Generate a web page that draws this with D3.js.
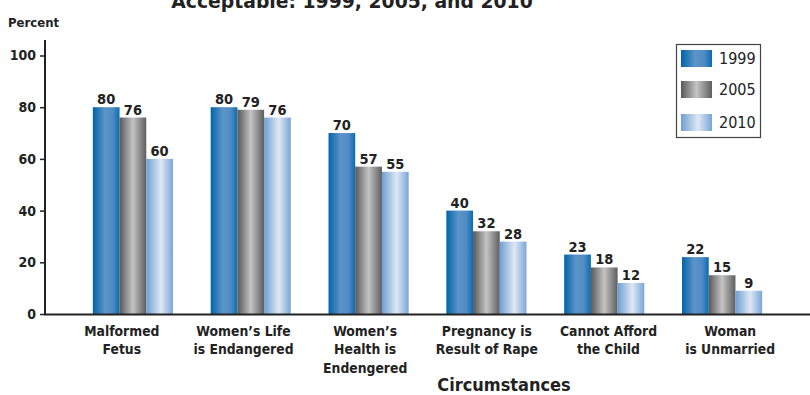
<!DOCTYPE html>
<html><head><meta charset="utf-8">
<script src="https://cdn.jsdelivr.net/npm/d3@7"></script>
<style>body{margin:0;background:#fff}svg{display:block}</style>
</head><body>
<script>
const categories = [["Malformed","Fetus"],["Women\u2019s Life","is Endangered"],["Women\u2019s","Health is","Endengered"],["Pregnancy is","Result of Rape"],["Cannot Afford","the Child"],["Woman","is Unmarried"]];
const years = ["1999","2005","2010"];
const v1999 = [80,80,70,40,23,22];
const v2005 = [76,79,57,32,18,15];
const v2010 = [60,76,55,28,12,9];
const yTicks = [0,20,40,60,80,100];
const series = [v1999, v2005, v2010];

const W=810,H=395;
const svg=d3.select("body").append("svg").attr("width",W).attr("height",H);
const font="'DejaVu Sans Condensed','DejaVu Sans',sans-serif";

const defs=svg.append("defs");
const grads=[
  [["0%","#0064a8"],["45%","#5d94c8"],["75%","#4f8bc4"],["100%","#0a6cb0"]],
  [["0%","#585858"],["50%","#c4c4c4"],["100%","#5e5e5e"]],
  [["0%","#6e9ed2"],["55%","#dfe8f5"],["100%","#7aa5d8"]]
];
grads.forEach((g,i)=>{
  const lg=defs.append("linearGradient").attr("id","g"+i).attr("x1","0").attr("x2","1").attr("y1","0").attr("y2","0");
  g.forEach(s=>lg.append("stop").attr("offset",s[0]).attr("stop-color",s[1]));
});

const x=d3.scaleBand().domain(d3.range(categories.length)).range([74,781]).paddingInner(0.32).paddingOuter(0.16);
const xl=d3.scaleBand().domain(d3.range(categories.length)).range([61,791]);
const xs=d3.scaleBand().domain(d3.range(3)).range([0,x.bandwidth()]);
const y=d3.scaleLinear().domain([0,100]).range([314,55.5]);

// title (cut off at top, as in the source)
svg.append("text").attr("x",352).attr("y",8).attr("text-anchor","middle")
  .attr("font-family","'DejaVu Sans',sans-serif").attr("font-weight","bold").attr("font-size",18.8).attr("fill","#222")
  .text("Acceptable: 1999, 2005, and 2010");

svg.append("text").attr("x",8).attr("y",27).attr("font-family",font).attr("font-weight","bold").attr("font-size",13).attr("fill","#222").text("Percent");

// y axis
const ya=svg.append("g").attr("transform","translate(45,0)").call(d3.axisLeft(y).tickValues(yTicks).tickSize(5).tickPadding(4));
ya.select(".domain").remove();
ya.selectAll("line").attr("stroke","#222").attr("stroke-width",1.5);
ya.selectAll("text").attr("font-family",font).attr("font-weight","bold").attr("font-size",14).attr("fill","#222");
svg.append("line").attr("x1",45).attr("x2",45).attr("y1",40).attr("y2",315).attr("stroke","#222").attr("stroke-width",2);

// bars
categories.forEach((c,i)=>{
  const g=svg.append("g").attr("transform",`translate(${x(i)},0)`);
  series.forEach((s,j)=>{
    g.append("rect").attr("x",xs(j)).attr("width",xs.bandwidth()).attr("y",y(s[i])).attr("height",y(0)-y(s[i])).attr("fill",`url(#g${j})`);
    g.append("text").attr("x",xs(j)+xs.bandwidth()/2).attr("y",y(s[i])-3).attr("text-anchor","middle")
      .attr("font-family",font).attr("font-weight","bold").attr("font-size",14.5).attr("fill","#222").text(s[i]);
  });
  const cx=xl(i)+xl.bandwidth()/2;
  const t=svg.append("text").attr("x",cx).attr("y",335.5).attr("text-anchor","middle")
    .attr("font-family",font).attr("font-weight","bold").attr("font-size",13.8).attr("fill","#222");
  c.forEach((l,k)=>t.append("tspan").attr("x",cx).attr("dy",k?18.5:0).text(l));
});

// x axis line
svg.append("line").attr("x1",44).attr("x2",810).attr("y1",314.5).attr("y2",314.5).attr("stroke","#222").attr("stroke-width",2);

svg.append("text").attr("x",504).attr("y",390.5).attr("text-anchor","middle").attr("font-family",font).attr("font-weight","bold").attr("font-size",18).attr("fill","#222").text("Circumstances");

// legend
svg.append("rect").attr("x",676.5).attr("y",44.5).attr("width",84).attr("height",93).attr("fill","#fff").attr("stroke","#444").attr("stroke-width",1.2);
const ly=[58,89,122];
years.forEach((yr,j)=>{
  svg.append("rect").attr("x",681).attr("y",ly[j]-8).attr("width",31).attr("height",17).attr("fill",`url(#g${j})`);
  svg.append("text").attr("x",719).attr("y",ly[j]+6).attr("font-family",font).attr("font-size",16).attr("fill","#222").text(yr);
});
</script>
</body></html>
